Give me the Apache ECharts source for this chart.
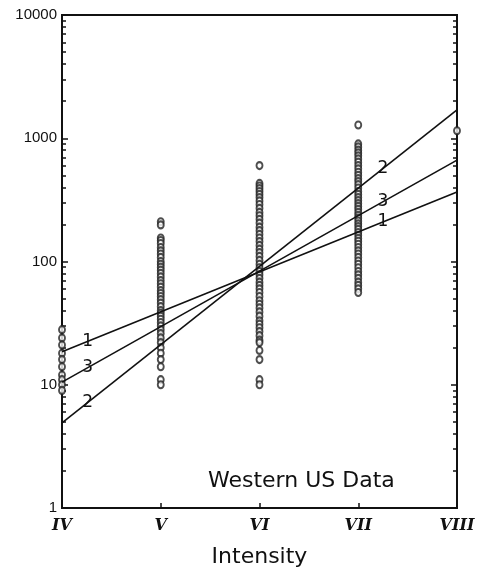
<!DOCTYPE html>
<html>
<head>
<meta charset="utf-8">
<script src="https://cdn.jsdelivr.net/npm/echarts@6/dist/echarts.min.js"></script>
<style>
  html, body { margin: 0; padding: 0; background: #fff; }
  #main { width: 487px; height: 577px; }
</style>
</head>
<body>
<div id="main"></div>
<script>
// intensity classes on the x axis (index 0..4)
const intensityLabels = ['IV', 'V', 'VI', 'VII', 'VIII'];
const yTickLabels = ['1', '10', '100', '1000', '10000'];

const ptsIV = [28, 24, 21, 18, 16, 14, 12, 11, 10, 9];
const ptsV = [210, 198, 155, 148, 140, 130, 122, 115, 108, 100, 95, 90, 85, 80, 75, 70, 66, 62,
  58, 55, 52, 49, 46, 43, 40, 38, 36, 34, 32, 30, 28, 26, 24, 22, 20, 18, 16, 14, 11, 10];
const ptsVI = [600, 430, 410, 390, 370, 350, 330, 310, 290, 270, 250, 235, 220, 205, 190, 178,
  166, 155, 145, 135, 126, 118, 110, 102, 95, 89, 83, 78, 73, 68, 64, 60, 56, 52, 48, 45, 42,
  39, 36, 33, 31, 29, 27, 25, 23, 22, 19, 16, 11, 10];
const ptsVII = [1280, 900, 850, 800, 760, 720, 680, 640, 600, 565, 530, 500, 470, 445, 420, 395,
  370, 350, 330, 312, 295, 280, 265, 250, 237, 225, 213, 202, 192, 182, 172, 163, 154, 146, 138,
  130, 122, 115, 108, 101, 95, 89, 83, 78, 73, 68, 64, 60, 56];
const ptsVIII = [1150];

// fitted lines: value at IV and at VIII
const fit1 = [18.5, 366];
const fit2 = [4.9, 1700];
const fit3 = [10.5, 665];
const fitNames = ['1', '2', '3'];

// where the little line numbers sit (x index along the line)
const labelSpots = [0.26, 3.25];

const minorTicks = [];
for (let d = 1; d < 10000; d *= 10) {
  for (let k = 2; k <= 9; k++) minorTicks.push(k * d);
}

const chart = echarts.init(document.getElementById('main'));

const scatterData = [];
[ptsIV, ptsV, ptsVI, ptsVII, ptsVIII].forEach((arr, i) => {
  arr.forEach(v => scatterData.push([i, v]));
});

const fits = [fit1, fit2, fit3];
const black = '#111';
const axisLine = { show: true, onZero: false, lineStyle: { color: black, width: 2 } };

function yAxisBase(pos, ticks, len, showLabel) {
  const tick = { show: true, inside: true, length: len, lineStyle: { color: black, width: 1.5 } };
  if (ticks) tick.customValues = ticks;
  return {
    type: 'log', logBase: 10, min: 1, max: 10000, position: pos,
    axisLine: axisLine,
    axisTick: tick,
    axisLabel: showLabel ? {
      show: true, margin: 5, color: black, fontSize: 15, fontFamily: 'Liberation Sans',
      formatter: v => yTickLabels[Math.round(Math.log10(v))]
    } : { show: false },
    splitLine: { show: false }
  };
}

chart.setOption({
  animation: false,
  backgroundColor: '#fff',
  grid: { left: 62, right: 30, top: 15, bottom: 69 },
  title: {
    text: 'Western US Data', left: 203, top: 465,
    textStyle: { color: black, fontSize: 22, fontWeight: 'normal', fontFamily: 'DejaVu Sans' }
  },
  xAxis: [{
    type: 'value', min: 0, max: 4, interval: 1, position: 'bottom',
    axisLine: axisLine,
    axisTick: { show: true, inside: true, length: 5, lineStyle: { color: black, width: 1.5 } },
    axisLabel: {
      margin: 10, color: black, fontSize: 16, fontWeight: 'bold', fontStyle: 'italic',
      fontFamily: 'DejaVu Serif', formatter: v => intensityLabels[v]
    },
    splitLine: { show: false },
    name: 'Intensity', nameLocation: 'middle', nameGap: 38,
    nameTextStyle: { color: black, fontSize: 22, fontFamily: 'DejaVu Sans' }
  }, {
    type: 'value', min: 0, max: 4, position: 'top',
    axisLine: axisLine, axisTick: { show: false }, axisLabel: { show: false },
    splitLine: { show: false }
  }],
  yAxis: [
    yAxisBase('left', null, 6, true),
    yAxisBase('left', minorTicks, 4, false),
    yAxisBase('right', null, 6, false),
    yAxisBase('right', minorTicks, 4, false)
  ],
  series: [{
    type: 'scatter',
    data: scatterData,
    symbol: 'emptyCircle',
    symbolSize: [6, 7],
    itemStyle: { color: '#222', borderColor: '#222', borderWidth: 1.2 },
    z: 3
  }].concat(fits.map((f, i) => ({
    type: 'line',
    name: fitNames[i],
    data: [[0, f[0]], [4, f[1]]],
    showSymbol: false,
    lineStyle: { color: black, width: 1.6 },
    z: 4
  })))
});

// place the line numbers on the fitted lines
const graphics = [];
fits.forEach((f, i) => {
  labelSpots.forEach(t => {
    const lv = Math.log10(f[0]) + (Math.log10(f[1]) - Math.log10(f[0])) * t / 4;
    const p = chart.convertToPixel({ xAxisIndex: 0, yAxisIndex: 0 }, [t, Math.pow(10, lv)]);
    graphics.push({
      type: 'text', x: p[0], y: p[1], z: 10,
      style: { text: fitNames[i], fill: black, font: '17px "DejaVu Sans"',
        align: 'center', verticalAlign: 'middle' }
    });
  });
});
chart.setOption({ graphic: graphics });
</script>
</body>
</html>
